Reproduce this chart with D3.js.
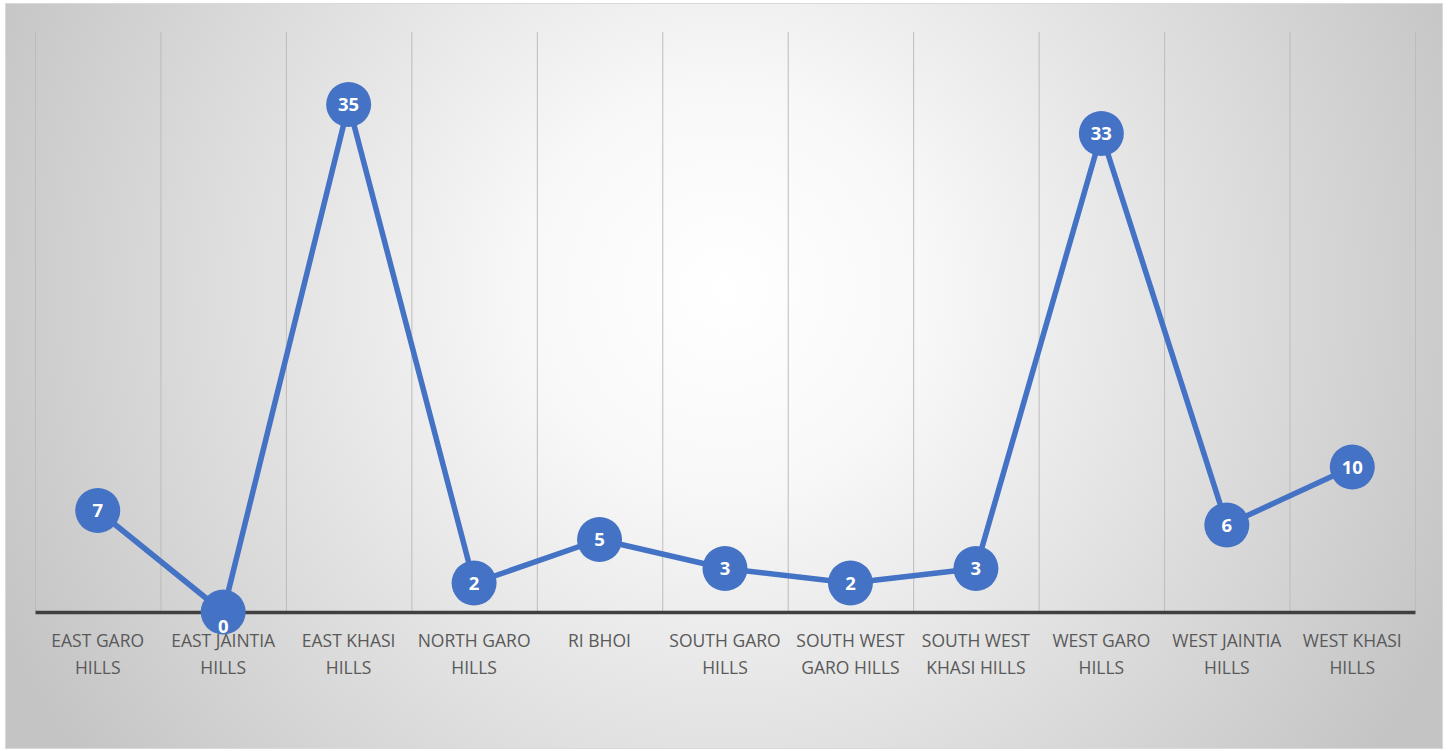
<!DOCTYPE html>
<html><head><meta charset="utf-8">
<script src="https://cdn.jsdelivr.net/npm/d3@7"></script>
<style>html,body{margin:0;padding:0;background:#fff;}svg{display:block;}</style>
</head><body><svg id="c" width="1448" height="751"></svg>
<script>
const categories = ["EAST GARO HILLS","EAST JAINTIA HILLS","EAST KHASI HILLS","NORTH GARO HILLS","RI BHOI","SOUTH GARO HILLS","SOUTH WEST GARO HILLS","SOUTH WEST KHASI HILLS","WEST GARO HILLS","WEST JAINTIA HILLS","WEST KHASI HILLS"];
const tickLines = [["EAST GARO","HILLS"],["EAST JAINTIA","HILLS"],["EAST KHASI","HILLS"],["NORTH GARO","HILLS"],["RI BHOI"],["SOUTH GARO","HILLS"],["SOUTH WEST","GARO HILLS"],["SOUTH WEST","KHASI HILLS"],["WEST GARO","HILLS"],["WEST JAINTIA","HILLS"],["WEST KHASI","HILLS"]];
const values = [7,0,35,2,5,3,2,3,33,6,10];
const yDomain = [0,40];

(function(){
const svg = d3.select("#c");
const defs = svg.append("defs");
const grad = defs.append("radialGradient").attr("id","bg")
  .attr("gradientUnits","userSpaceOnUse").attr("cx",725).attr("cy",290).attr("r",800);
grad.append("stop").attr("offset","0").attr("stop-color","#ffffff");
grad.append("stop").attr("offset","0.25").attr("stop-color","#f8f8f8");
grad.append("stop").attr("offset","1").attr("stop-color","#c4c4c4");

svg.append("rect").attr("x",5.5).attr("y",3.5).attr("width",1437).attr("height",745)
  .attr("fill","url(#bg)").attr("stroke","#d9d9d9").attr("stroke-width",1);

const pL=35, pR=1415, pT=32, pB=612;
const x = d3.scaleBand().domain(categories).range([pL,pR]).paddingInner(0).paddingOuter(0);
const y = d3.scaleLinear().domain(yDomain).range([pB,pT]);

const bounds = categories.map(c=>x(c)).concat([pR]);
svg.append("g").selectAll("line").data(bounds).join("line")
  .attr("x1",d=>d+0.5).attr("x2",d=>d+0.5).attr("y1",pT).attr("y2",pB)
  .attr("stroke","#bcbcbc").attr("stroke-width",1);

const xAxis = d3.axisBottom(x).tickSize(0).tickFormat("");
const ax = svg.append("g").attr("transform",`translate(0,${pB})`).call(xAxis);
ax.select(".domain").attr("stroke","#404040").attr("stroke-width",3.5);

const lab = svg.append("g").attr("font-family","'Open Sans', 'Liberation Sans', sans-serif")
  .attr("font-size",17.5).attr("fill","#595959").attr("text-anchor","middle");
categories.forEach((c,i)=>{
  const t = lab.append("text").attr("x",x(c)+x.bandwidth()/2).attr("y",647);
  tickLines[i].forEach((ln,j)=>t.append("tspan").attr("x",x(c)+x.bandwidth()/2).attr("dy",j===0?0:27).text(ln));
});

const cx = (d,i)=>x(categories[i])+x.bandwidth()/2;
const line = d3.line().x((d,i)=>cx(d,i)).y(d=>y(d));
svg.append("path").datum(values).attr("d",line).attr("fill","none")
  .attr("stroke","#4472c4").attr("stroke-width",5.5).attr("stroke-linejoin","round");

svg.append("g").selectAll("circle").data(values).join("circle")
  .attr("cx",cx).attr("cy",d=>y(d)).attr("r",22.5).attr("fill","#4472c4");

svg.append("g").selectAll("text").data(values).join("text")
  .attr("x",cx).attr("y",d=>y(d)+(d===0?14:0)).attr("dy","0.36em")
  .attr("text-anchor","middle").attr("font-family","'Open Sans', 'Liberation Sans', sans-serif")
  .attr("font-weight","bold").attr("font-size",18.5).attr("fill","#ffffff").text(d=>d);
})();
</script></body></html>
